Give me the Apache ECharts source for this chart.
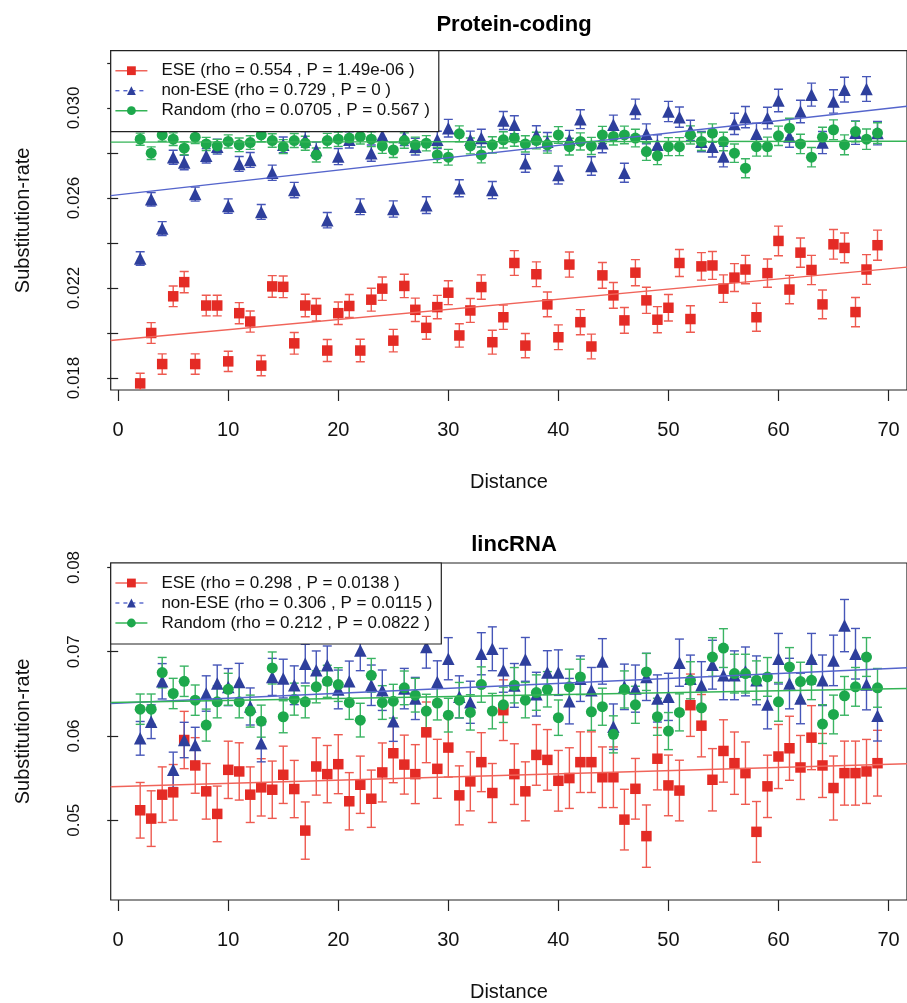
<!DOCTYPE html>
<html lang="en">
<head>
  <meta charset="utf-8" />
  <title>Substitution-rate by distance</title>
  <script type="text/javascript" src="https://fastly.jsdelivr.net/npm/echarts@6/dist/echarts.min.js"></script>
  <style>
    html, body { margin: 0; background: #fff; }
    #container { width: 907px; height: 1003px; }
  </style>
</head>
<body>
  <div id="container"></div>
  <script type="text/javascript">
    // distance (x) for every point
    var DIST = [2,3,4,5,6,7,8,9,10,11,12,13,14,15,16,17,18,19,20,21,22,23,24,25,26,27,28,29,30,31,32,33,34,35,
                36,37,38,39,40,41,42,43,44,45,46,47,48,49,50,51,52,53,54,55,56,57,58,59,60,61,62,63,64,65,66,67,68,69];

    // Protein-coding panel
    var PC_ESE = [0.01776,0.02000,0.01862,0.02163,0.02226,0.01862,0.02122,0.02122,0.01874,0.02088,0.02051,0.01855,0.02207,0.02205,0.01954,0.02122,
      0.02103,0.01922,0.02088,0.02120,0.01922,0.02148,0.02197,0.01966,0.02209,0.02103,0.02023,0.02115,0.02179,0.01989,0.02100,0.02204,0.01959,0.02070,
      0.02311,0.01944,0.02261,0.02127,0.01981,0.02304,0.02048,0.01940,0.02256,0.02167,0.02056,0.02268,0.02145,0.02059,0.02112,0.02311,0.02062,0.02296,
      0.02300,0.02197,0.02246,0.02282,0.02070,0.02266,0.02409,0.02193,0.02357,0.02280,0.02127,0.02394,0.02378,0.02093,0.02282,0.02390];
    var PC_ESE_ERR = [0.00045,0.00046,0.00045,0.00046,0.00047,0.00045,0.00046,0.00046,0.00045,0.00047,0.00047,0.00045,0.00048,0.00048,0.00048,0.00050,
      0.00050,0.00049,0.00050,0.00051,0.00050,0.00051,0.00052,0.00050,0.00052,0.00052,0.00051,0.00052,0.00053,0.00052,0.00053,0.00054,0.00053,0.00054,
      0.00055,0.00054,0.00055,0.00055,0.00055,0.00056,0.00056,0.00055,0.00057,0.00057,0.00057,0.00058,0.00058,0.00058,0.00059,0.00060,0.00059,0.00061,
      0.00062,0.00061,0.00062,0.00063,0.00062,0.00063,0.00066,0.00063,0.00065,0.00065,0.00064,0.00066,0.00066,0.00065,0.00066,0.00067];
    var PC_NON = [0.02331,0.02594,0.02464,0.02781,0.02757,0.02617,0.02787,0.02828,0.02564,0.02751,0.02769,0.02538,0.02712,0.02836,0.02635,0.02860,
      0.02813,0.02501,0.02784,0.02858,0.02561,0.02799,0.02876,0.02551,0.02870,0.02828,0.02568,0.02858,0.02910,0.02643,0.02858,0.02866,0.02635,0.02944,
      0.02925,0.02754,0.02880,0.02850,0.02702,0.02858,0.02950,0.02742,0.02843,0.02925,0.02712,0.02995,0.02885,0.02836,0.02984,0.02959,0.02900,0.02850,
      0.02828,0.02784,0.02929,0.02959,0.02885,0.02955,0.03033,0.02873,0.02984,0.03059,0.02846,0.03029,0.03081,0.02890,0.03084,0.02888];
    var PC_NON_ERR = [0.00030,0.00030,0.00031,0.00031,0.00032,0.00031,0.00032,0.00033,0.00032,0.00033,0.00033,0.00033,0.00034,0.00035,0.00034,0.00035,
      0.00035,0.00034,0.00036,0.00036,0.00035,0.00036,0.00037,0.00036,0.00037,0.00037,0.00037,0.00038,0.00039,0.00038,0.00039,0.00039,0.00038,0.00040,
      0.00040,0.00040,0.00041,0.00041,0.00040,0.00042,0.00042,0.00041,0.00042,0.00043,0.00042,0.00044,0.00044,0.00044,0.00045,0.00045,0.00045,0.00045,
      0.00046,0.00046,0.00047,0.00047,0.00047,0.00048,0.00050,0.00048,0.00050,0.00051,0.00049,0.00052,0.00055,0.00052,0.00055,0.00052];
    var PC_RND = [0.02861,0.02799,0.02880,0.02861,0.02821,0.02870,0.02840,0.02831,0.02851,0.02836,0.02846,0.02880,0.02855,0.02828,0.02855,0.02843,
      0.02791,0.02855,0.02861,0.02866,0.02873,0.02861,0.02831,0.02813,0.02855,0.02836,0.02843,0.02791,0.02781,0.02885,0.02831,0.02791,0.02836,0.02858,
      0.02866,0.02840,0.02855,0.02836,0.02880,0.02828,0.02851,0.02831,0.02880,0.02873,0.02880,0.02866,0.02806,0.02787,0.02828,0.02828,0.02880,0.02851,
      0.02888,0.02851,0.02799,0.02732,0.02828,0.02828,0.02876,0.02910,0.02840,0.02781,0.02870,0.02903,0.02836,0.02895,0.02861,0.02888];
    var PC_RND_ERR = [0.00027,0.00028,0.00028,0.00028,0.00029,0.00028,0.00029,0.00029,0.00029,0.00030,0.00030,0.00030,0.00030,0.00031,0.00031,0.00031,
      0.00031,0.00032,0.00032,0.00032,0.00033,0.00033,0.00033,0.00033,0.00034,0.00034,0.00034,0.00034,0.00035,0.00035,0.00035,0.00035,0.00036,0.00036,
      0.00036,0.00036,0.00037,0.00037,0.00037,0.00037,0.00038,0.00038,0.00038,0.00038,0.00039,0.00039,0.00039,0.00039,0.00040,0.00040,0.00040,0.00040,
      0.00041,0.00041,0.00041,0.00042,0.00042,0.00042,0.00043,0.00044,0.00043,0.00043,0.00044,0.00044,0.00044,0.00045,0.00045,0.00046];

    // lincRNA panel
    var LR_ESE = [0.05118,0.05019,0.05303,0.05331,0.05952,0.05650,0.05343,0.05075,0.05598,0.05579,0.05303,0.05390,0.05362,0.05539,0.05370,0.04877,
      0.05638,0.05547,0.05665,0.05225,0.05421,0.05255,0.05567,0.05795,0.05660,0.05547,0.06043,0.05610,0.05862,0.05295,0.05461,0.05689,0.05323,0.06306,
      0.05547,0.05343,0.05775,0.05716,0.05468,0.05500,0.05689,0.05689,0.05510,0.05510,0.05007,0.05373,0.04811,0.05730,0.05413,0.05352,0.06365,0.06122,
      0.05480,0.05822,0.05677,0.05559,0.04862,0.05402,0.05756,0.05854,0.05626,0.05980,0.05650,0.05382,0.05559,0.05559,0.05579,0.05677];
    var LR_ESE_ERR = [0.0033,0.0033,0.0033,0.0033,0.0034,0.0033,0.0033,0.0033,0.0034,0.0034,0.0033,0.0034,0.0034,0.0034,0.0034,0.0034,
      0.0034,0.0034,0.0035,0.0034,0.0034,0.0034,0.0035,0.0035,0.0035,0.0035,0.0036,0.0035,0.0035,0.0035,0.0035,0.0035,0.0035,0.0036,
      0.0036,0.0035,0.0036,0.0036,0.0036,0.0036,0.0036,0.0036,0.0036,0.0036,0.0036,0.0036,0.0037,0.0037,0.0036,0.0036,0.0037,0.0037,
      0.0037,0.0037,0.0037,0.0037,0.0036,0.0037,0.0038,0.0038,0.0038,0.0038,0.0038,0.0038,0.0038,0.0038,0.0038,0.0039];
    var LR_NON = [0.05972,0.06169,0.06649,0.05598,0.05952,0.05893,0.06504,0.06622,0.06580,0.06642,0.06350,0.05913,0.06701,0.06681,0.06602,0.06858,
      0.06779,0.06838,0.06552,0.06649,0.07015,0.06602,0.06543,0.06176,0.06562,0.06445,0.07055,0.06642,0.06917,0.06464,0.06400,0.06976,0.07035,0.06779,
      0.06600,0.06909,0.06496,0.06752,0.06752,0.06413,0.06680,0.06543,0.06885,0.06110,0.06583,0.06562,0.06701,0.06445,0.06464,0.06870,0.06680,0.06602,
      0.06846,0.06720,0.06720,0.06766,0.06660,0.06374,0.06917,0.06622,0.06445,0.06917,0.06661,0.06897,0.07310,0.06976,0.06610,0.06240];
    var LR_NON_ERR = [0.0020,0.0020,0.0021,0.0021,0.0021,0.0021,0.0021,0.0022,0.0022,0.0022,0.0022,0.0022,0.0022,0.0023,0.0023,0.0023,
      0.0023,0.0023,0.0023,0.0024,0.0024,0.0024,0.0024,0.0024,0.0024,0.0025,0.0025,0.0025,0.0025,0.0025,0.0025,0.0025,0.0026,0.0026,
      0.0026,0.0026,0.0026,0.0026,0.0027,0.0027,0.0027,0.0027,0.0027,0.0027,0.0027,0.0028,0.0028,0.0028,0.0028,0.0028,0.0028,0.0028,
      0.0029,0.0029,0.0029,0.0029,0.0029,0.0029,0.0030,0.0030,0.0030,0.0030,0.0030,0.0030,0.0031,0.0030,0.0030,0.0030];
    var LR_RND = [0.06318,0.06318,0.06752,0.06504,0.06649,0.06425,0.06129,0.06405,0.06554,0.06405,0.06295,0.06176,0.06807,0.06228,0.06437,0.06405,
      0.06583,0.06649,0.06610,0.06397,0.06188,0.06720,0.06397,0.06413,0.06571,0.06484,0.06295,0.06390,0.06247,0.06425,0.06280,0.06610,0.06295,0.06370,
      0.06602,0.06425,0.06515,0.06554,0.06217,0.06583,0.06701,0.06287,0.06347,0.06019,0.06552,0.06370,0.06760,0.06228,0.06058,0.06280,0.06661,0.06335,
      0.06937,0.07043,0.06740,0.06740,0.06661,0.06701,0.06405,0.06819,0.06645,0.06661,0.06141,0.06255,0.06476,0.06583,0.06937,0.06571];
    var LR_RND_ERR = [0.0018,0.0018,0.0018,0.0018,0.0018,0.0018,0.0019,0.0019,0.0019,0.0019,0.0019,0.0019,0.0019,0.0019,0.0019,0.0019,
      0.0019,0.0019,0.0020,0.0020,0.0020,0.0020,0.0020,0.0020,0.0020,0.0020,0.0020,0.0020,0.0020,0.0021,0.0021,0.0021,0.0021,0.0021,
      0.0021,0.0021,0.0021,0.0021,0.0021,0.0021,0.0021,0.0022,0.0022,0.0022,0.0022,0.0022,0.0022,0.0022,0.0022,0.0022,0.0022,0.0022,
      0.0023,0.0023,0.0023,0.0023,0.0023,0.0023,0.0023,0.0023,0.0023,0.0023,0.0023,0.0023,0.0023,0.0023,0.0023,0.0023];

    // fitted lines [intercept, slope]
    var PC_FIT = { ese: [0.01970, 0.0000450], non: [0.02614, 0.0000549], rnd: [0.02848, 0.0000005] };
    var LR_FIT = { ese: [0.05399, 0.0000379], non: [0.06390, 0.0000586], rnd: [0.06398, 0.0000231] };

    // legend labels
    var PC_LABELS = ['ESE (rho = 0.554 , P = 1.49e-06 )', 'non-ESE (rho = 0.729 , P = 0 )', 'Random (rho = 0.0705 , P = 0.567 )'];
    var LR_LABELS = ['ESE (rho = 0.298 , P = 0.0138 )', 'non-ESE (rho = 0.306 , P = 0.0115 )', 'Random (rho = 0.212 , P = 0.0822 )'];

    // ticks
    var X_TICKS = [0, 10, 20, 30, 40, 50, 60, 70];
    var PC_Y_TICKS = [0.018, 0.020, 0.022, 0.024, 0.026, 0.028, 0.030, 0.032];
    var PC_Y_LABELS = [0.018, 0.022, 0.026, 0.030];
    var LR_Y_TICKS = [0.05, 0.06, 0.07, 0.08];

    var FONT = 'Liberation Sans, Arial, Helvetica, sans-serif';
    var X_MIN = -0.68, X_MAX = 71.68;

    var STYLE = {
      ese: { color: '#e42b25', bar: '#ee5a50', line: '#f0645a', symbol: 'rect', size: 10.5, dash: 'solid' },
      non: { color: '#2e3f9c', bar: '#4656b8', line: '#5565cc', symbol: 'triangle', size: 12.5, dash: [4, 4] },
      rnd: { color: '#1da84c', bar: '#3ab463', line: '#34b456', symbol: 'circle', size: 11, dash: 'solid' }
    };

    function errorBars(g, key, vals, errs) {
      var st = STYLE[key];
      return {
        type: 'custom',
        xAxisIndex: g, yAxisIndex: g,
        silent: true,
        clip: true,
        renderItem: function (params, api) {
          var x = api.value(0);
          var p1 = api.coord([x, api.value(1)]);
          var p2 = api.coord([x, api.value(2)]);
          var w = 4.5;
          var s = { stroke: st.bar, lineWidth: 1.4 };
          return {
            type: 'group',
            children: [
              { type: 'line', shape: { x1: p1[0], y1: p1[1], x2: p2[0], y2: p2[1] }, style: s },
              { type: 'line', shape: { x1: p1[0] - w, y1: p1[1], x2: p1[0] + w, y2: p1[1] }, style: s },
              { type: 'line', shape: { x1: p2[0] - w, y1: p2[1], x2: p2[0] + w, y2: p2[1] }, style: s }
            ]
          };
        },
        data: DIST.map(function (d, i) { return [d, vals[i] - errs[i], vals[i] + errs[i]]; })
      };
    }

    function points(g, key, vals) {
      var st = STYLE[key];
      return {
        type: 'scatter',
        xAxisIndex: g, yAxisIndex: g,
        symbol: st.symbol,
        symbolSize: st.size,
        itemStyle: { color: st.color, opacity: 1 },
        silent: true,
        data: DIST.map(function (d, i) { return [d, vals[i]]; })
      };
    }

    function fitLine(g, key, fit, name) {
      var st = STYLE[key];
      return {
        type: 'line',
        name: name,
        xAxisIndex: g, yAxisIndex: g,
        symbol: st.symbol,
        showSymbol: false,
        silent: true,
        lineStyle: { color: st.line, width: 1.4, type: 'solid' },
        itemStyle: { color: st.color, borderWidth: 0 },
        data: [[X_MIN, fit[0] + fit[1] * X_MIN], [X_MAX, fit[0] + fit[1] * X_MAX]]
      };
    }

    function panelSeries(g, sets, fits, labels) {
      var keys = ['ese', 'non', 'rnd'];
      var out = [];
      keys.forEach(function (k) {
        out.push(errorBars(g, k, sets[k][0], sets[k][1]));
        out.push(points(g, k, sets[k][0]));
      });
      keys.forEach(function (k, i) {
        out.push(fitLine(g, k, fits[k], labels[i]));
      });
      return out;
    }

    // legend icon line style (dashed for non-ESE)
    function legendData(labels) {
      var keys = ['ese', 'non', 'rnd'];
      return labels.map(function (l, i) {
        var st = STYLE[keys[i]];
        return { name: l, lineStyle: { type: st.dash, color: st.line, width: 1.4 } };
      });
    }

    function legend(top, labels) {
      return {
        data: legendData(labels),
        orient: 'vertical',
        left: 110.7,
        top: top,
        padding: [10, 9, 11, 4],
        itemGap: 0,
        itemWidth: 32,
        itemHeight: 11,
        selectedMode: false,
        backgroundColor: '#fff',
        borderColor: '#222',
        borderWidth: 1.2,
        borderRadius: 0,
        textStyle: { fontFamily: FONT, fontSize: 17, color: '#111', lineHeight: 20, padding: [0, 0, 0, 9] }
      };
    }

    function xAxis(g) {
      return {
        type: 'value', gridIndex: g, min: X_MIN, max: X_MAX,
        axisLine: { show: false },
        splitLine: { show: false },
        axisTick: { show: true, length: 11, customValues: X_TICKS, lineStyle: { color: '#222', width: 1.2 } },
        axisLabel: { customValues: X_TICKS, margin: 30, fontSize: 20, fontFamily: FONT, color: '#111' },
        name: 'Distance', nameLocation: 'middle', nameGap: 82,
        nameTextStyle: { fontSize: 20, fontFamily: FONT, color: '#111' }
      };
    }

    function yAxis(g, min, max, ticks, labels, digits) {
      return {
        type: 'value', gridIndex: g, min: min, max: max,
        axisLine: { show: false },
        splitLine: { show: false },
        axisTick: { show: true, length: 11, customValues: ticks, lineStyle: { color: '#222', width: 1.2 } },
        axisLabel: {
          customValues: labels, rotate: 90, margin: 28, fontSize: 17, fontFamily: FONT, color: '#111',
          formatter: function (v) { return v.toFixed(digits); }
        },
        name: 'Substitution-rate', nameLocation: 'middle', nameGap: 77,
        nameTextStyle: { fontSize: 20, fontFamily: FONT, color: '#111' }
      };
    }

    var chart = echarts.init(document.getElementById('container'), null, { renderer: 'canvas' });

    var pcSets = { ese: [PC_ESE, PC_ESE_ERR], non: [PC_NON, PC_NON_ERR], rnd: [PC_RND, PC_RND_ERR] };
    var lrSets = { ese: [LR_ESE, LR_ESE_ERR], non: [LR_NON, LR_NON_ERR], rnd: [LR_RND, LR_RND_ERR] };

    var option = {
      animation: false,
      backgroundColor: '#fff',
      title: [
        { text: 'Protein-coding', left: 509, top: 9, textAlign: 'center',
          textStyle: { fontFamily: FONT, fontSize: 22, fontWeight: 'bold', color: '#000' } },
        { text: 'lincRNA', left: 509, top: 529, textAlign: 'center',
          textStyle: { fontFamily: FONT, fontSize: 22, fontWeight: 'bold', color: '#000' } }
      ],
      legend: [legend(50.7, PC_LABELS), legend(563, LR_LABELS)],
      grid: [
        { left: 110.7, top: 50.7, width: 800.6, height: 339.3, show: true, borderColor: '#222', borderWidth: 1.2, backgroundColor: 'transparent' },
        { left: 110.7, top: 563, width: 800.6, height: 340, show: true, borderColor: '#222', borderWidth: 1.2, backgroundColor: 'transparent' }
      ],
      xAxis: [xAxis(0), xAxis(1)],
      yAxis: [
        yAxis(0, 0.017467, 0.032542, PC_Y_TICKS, PC_Y_LABELS, 3),
        yAxis(1, 0.04053, 0.08053, LR_Y_TICKS, LR_Y_TICKS, 2)
      ],
      series: panelSeries(0, pcSets, PC_FIT, PC_LABELS).concat(panelSeries(1, lrSets, LR_FIT, LR_LABELS))
    };

    chart.setOption(option);
    window.addEventListener('resize', chart.resize);
  </script>
</body>
</html>
